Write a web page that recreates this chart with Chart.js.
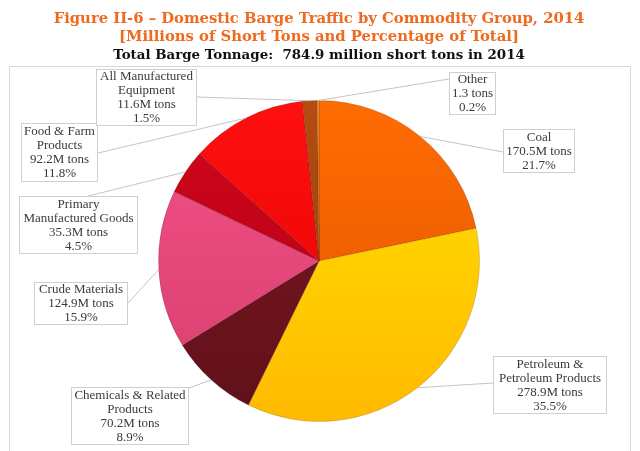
<!DOCTYPE html>
<html>
<head>
<meta charset="utf-8">
<script src="https://cdn.jsdelivr.net/npm/chart.js@4.4.1/dist/chart.umd.min.js"></script>
<style>
  html, body { margin: 0; padding: 0; background: #ffffff; }
  #wrap { width: 640px; height: 451px; position: relative; }
</style>
</head>
<body>
<div id="wrap"><canvas id="c" width="640" height="451"></canvas></div>
<script>
// ---- data ----
const categories = ['Coal', 'Petroleum & Petroleum Products', 'Chemicals & Related Products', 'Crude Materials',
  'Primary Manufactured Goods', 'Food & Farm Products', 'All Manufactured Equipment', 'Other'];
const tonsMillions = [170.5, 278.9, 70.2, 124.9, 35.3, 92.2, 11.6, 1.3];
const percentOfTotal = [21.7, 35.5, 8.9, 15.9, 4.5, 11.8, 1.5, 0.2];
const tonUnits = ['M tons', 'M tons', 'M tons', 'M tons', 'M tons', 'M tons', 'M tons', ' tons'];
const labelNameLines = [['Coal'], ['Petroleum &', 'Petroleum Products'], ['Chemicals & Related', 'Products'],
  ['Crude Materials'], ['Primary', 'Manufactured Goods'], ['Food & Farm', 'Products'],
  ['All Manufactured', 'Equipment'], ['Other']];
const titleLines = ['Figure II-6 \u2013 Domestic Barge Traffic by Commodity Group, 2014',
  '[Millions of Short Tons and Percentage of Total]'];
const subtitleText = 'Total Barge Tonnage:  784.9 million short tons in 2014';

// ---- styles / layout ----
const lightColors = ['#FF6C02', '#FFE200', '#7E1822', '#F4528A', '#D2061C', '#FF1010', '#B44C12', '#FF9426'];
const darkColors  = ['#E25400', '#FFBA00', '#60101A', '#D63E6C', '#AE0012', '#E40000', '#963A08', '#F07A10'];
// callout boxes: [x, y, w, h, anchorX, anchorY]
const boxLayout = [
  [503, 129, 72, 44, 503, 152],
  [493, 356, 114, 58, 493, 383],
  [71, 387, 118, 58, 189, 388],
  [34, 282, 94, 43, 128, 303],
  [19, 196, 119, 58, 88, 196],
  [21, 123, 77, 59, 98, 153],
  [96, 69, 101, 57, 197, 97],
  [449, 72, 47, 43, 449, 79]
];

const frame = {
  id: 'frame',
  beforeDraw(chart) {
    const ctx = chart.ctx;
    ctx.save();
    ctx.strokeStyle = '#d8d8d8';
    ctx.lineWidth = 1;
    ctx.strokeRect(9.5, 66.5, 621, 400);
    ctx.restore();
  }
};

const callouts = {
  id: 'callouts',
  afterDatasetsDraw(chart) {
    const ctx = chart.ctx;
    const meta = chart.getDatasetMeta(0);
    ctx.save();
    meta.data.forEach((arc, i) => {
      const p = arc.getProps(['x', 'y', 'startAngle', 'endAngle', 'outerRadius'], true);
      const mid = (p.startAngle + p.endAngle) / 2;
      const ex = p.x + Math.cos(mid) * p.outerRadius;
      const ey = p.y + Math.sin(mid) * p.outerRadius;
      const [bx, by, bw, bh, ax, ay] = boxLayout[i];
      ctx.strokeStyle = '#c4c4c4';
      ctx.lineWidth = 1;
      ctx.beginPath();
      ctx.moveTo(ax, ay);
      ctx.lineTo(ex, ey);
      ctx.stroke();
      ctx.fillStyle = '#ffffff';
      ctx.fillRect(bx, by, bw, bh);
      ctx.strokeStyle = '#cfcfcf';
      ctx.strokeRect(bx + 0.5, by + 0.5, bw - 1, bh - 1);
      const lines = labelNameLines[i].concat([tonsMillions[i].toFixed(1) + tonUnits[i], percentOfTotal[i].toFixed(1) + '%']);
      ctx.fillStyle = '#3a3a3a';
      ctx.font = '13px "Liberation Serif", serif';
      ctx.textAlign = 'center';
      ctx.textBaseline = 'middle';
      const lh = 14;
      const cy = by + bh / 2;
      const y0 = cy - (lines.length - 1) * lh / 2;
      lines.forEach((t, k) => ctx.fillText(t, bx + bw / 2, y0 + k * lh + 0.5));
    });
    ctx.restore();
  }
};

new Chart(document.getElementById('c'), {
  type: 'pie',
  data: {
    labels: categories,
    datasets: [{
      data: tonsMillions,
      backgroundColor: (c) => {
        const i = c.dataIndex;
        const area = c.chart.chartArea;
        if (!area) return lightColors[i];
        const g = c.chart.ctx.createLinearGradient(0, area.top, 0, area.bottom);
        g.addColorStop(0, lightColors[i]);
        g.addColorStop(1, darkColors[i]);
        return g;
      },
      borderColor: 'rgba(0,0,0,0.15)',
      borderWidth: 1
    }]
  },
  options: {
    responsive: false,
    animation: false,
    layout: { padding: { left: 0, right: 2, top: 0, bottom: 29 } },
    plugins: {
      legend: { display: false },
      tooltip: { enabled: false },
      title: {
        display: true,
        text: titleLines,
        color: '#EE6A1E',
        font: { family: '"DejaVu Serif", serif', size: 14.8, weight: 'bold', lineHeight: 1.182 },
        padding: { top: 10.5, bottom: 0 }
      },
      subtitle: {
        display: true,
        text: subtitleText,
        color: '#111111',
        font: { family: '"DejaVu Serif", serif', size: 13.4, weight: 'bold', lineHeight: 1.2 },
        padding: { top: 2, bottom: 36.4 }
      }
    }
  },
  plugins: [frame, callouts]
});
</script>
</body>
</html>
